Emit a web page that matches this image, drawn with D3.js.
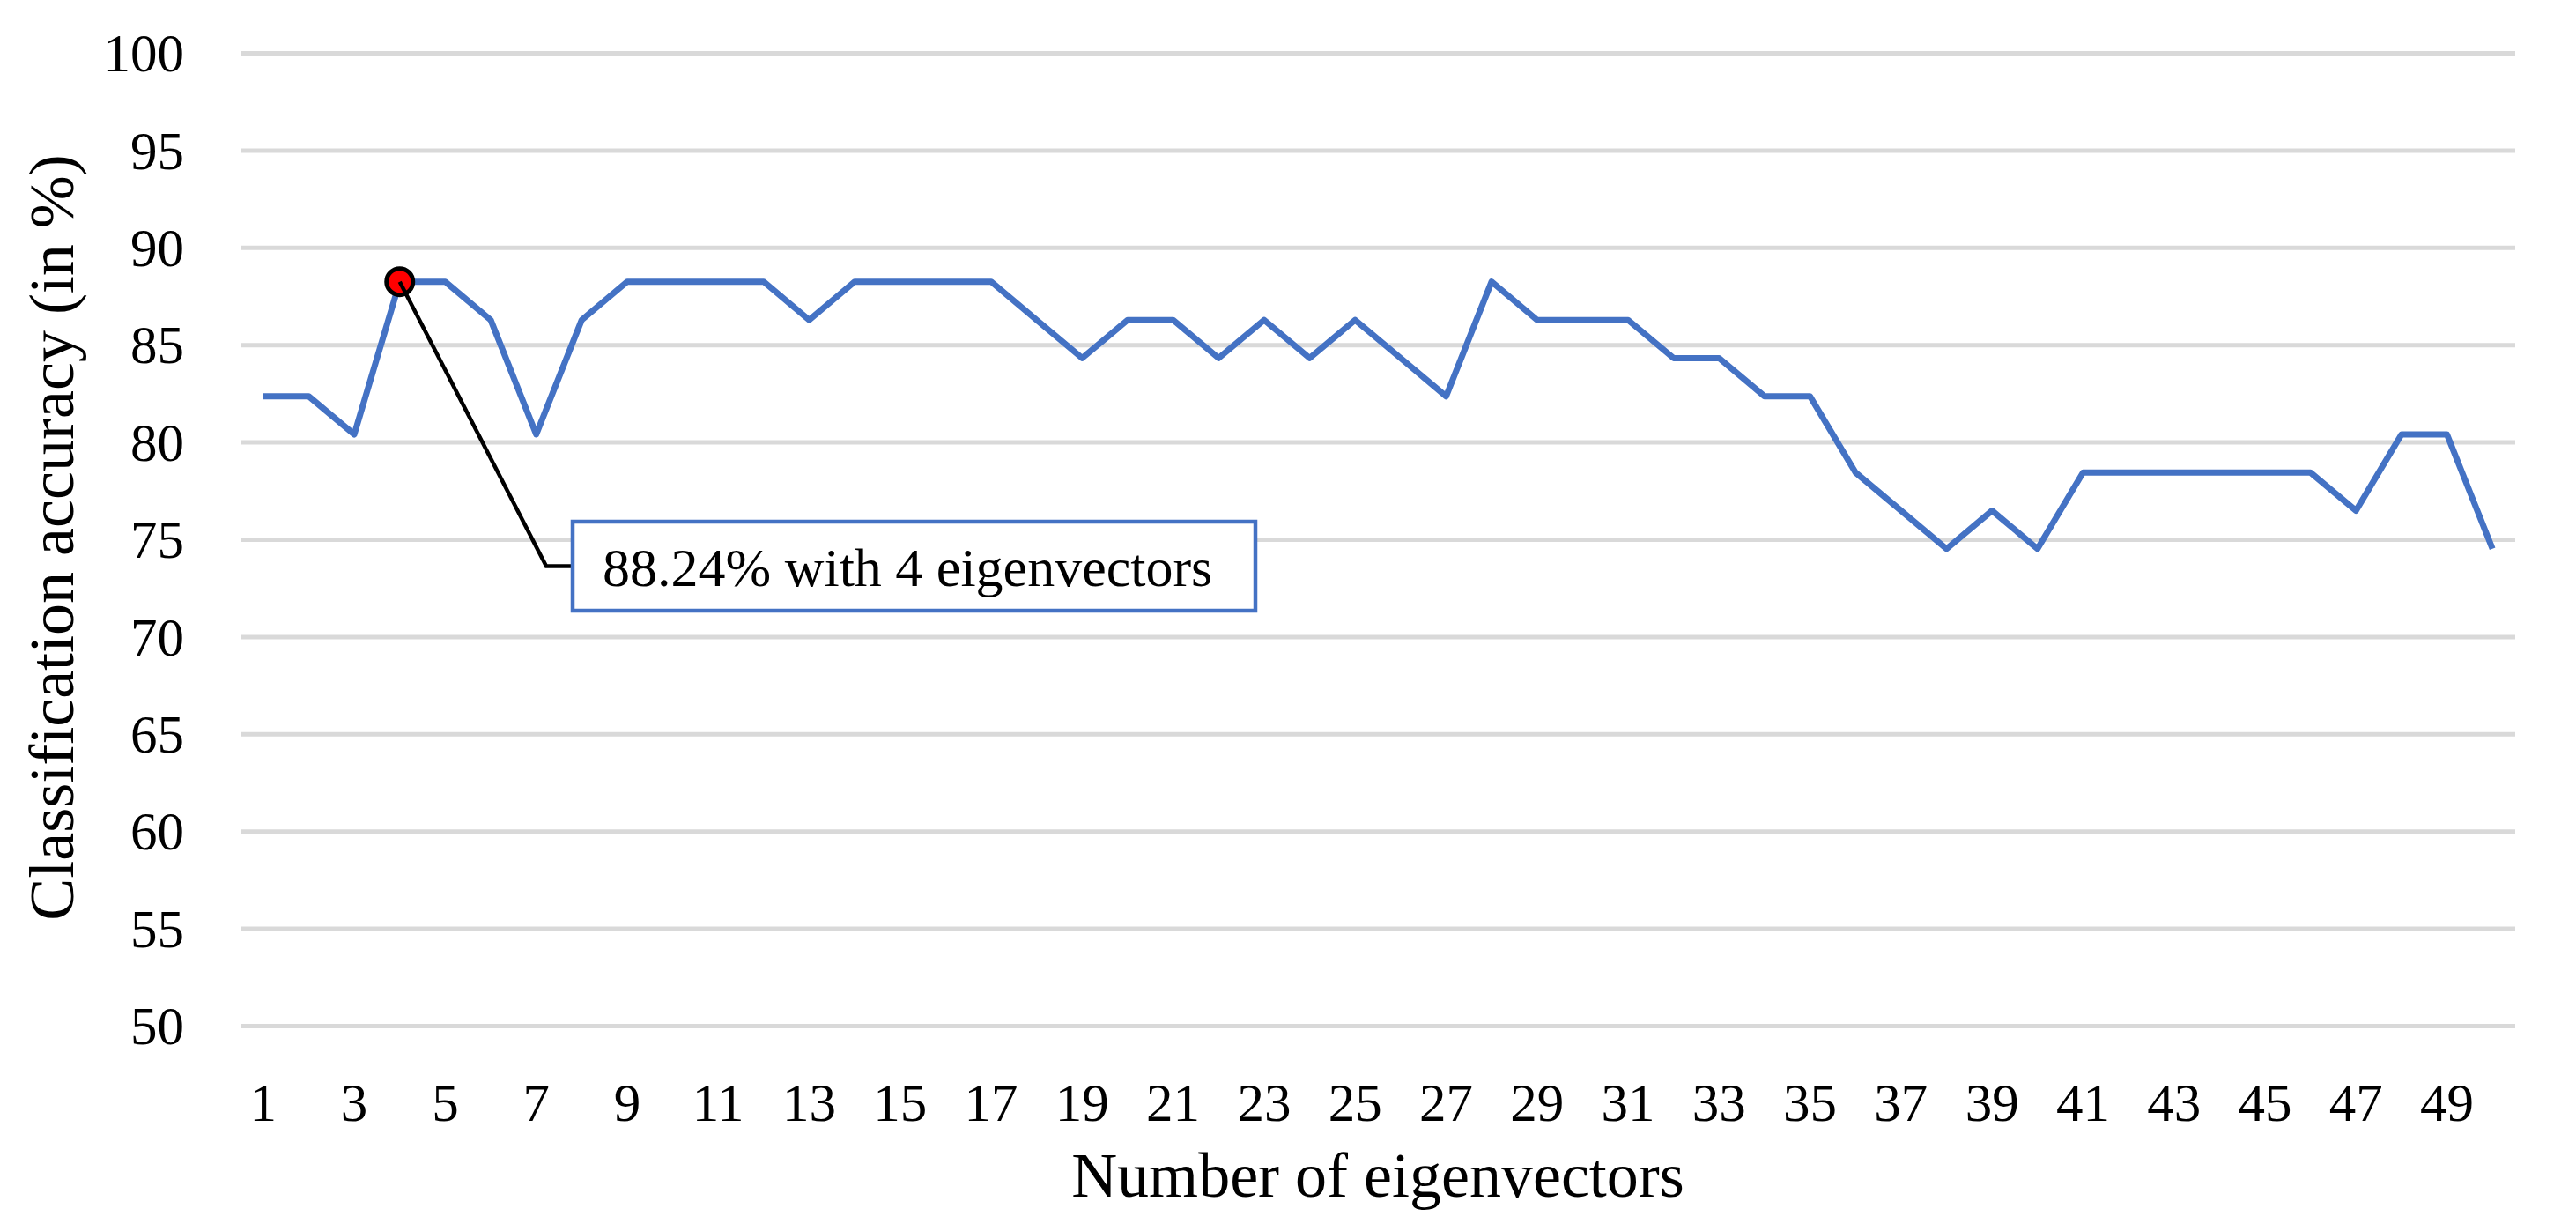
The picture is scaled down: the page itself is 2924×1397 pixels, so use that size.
<!DOCTYPE html>
<html>
<head>
<meta charset="utf-8">
<script src="https://cdn.jsdelivr.net/npm/d3@7"></script>
<style>
  body { margin: 0; background: #fff; }
  svg text { font-family: "Liberation Serif", "Times New Roman", serif; fill: #000; }
</style>
</head>
<body>
<div id="chart"></div>
<script>
// number of eigenvectors kept (x) and classification accuracy in % (y)
var eigenCounts = d3.range(1, 51);
var accuracy = [
  82.35, 82.35, 80.39, 88.24, 88.24, 86.27, 80.39, 86.27, 88.24, 88.24,
  88.24, 88.24, 86.27, 88.24, 88.24, 88.24, 88.24, 86.27, 84.31, 86.27,
  86.27, 84.31, 86.27, 84.31, 86.27, 84.31, 82.35, 88.24, 86.27, 86.27,
  86.27, 84.31, 84.31, 82.35, 82.35, 78.43, 76.47, 74.51, 76.47, 74.51,
  78.43, 78.43, 78.43, 78.43, 78.43, 78.43, 76.47, 80.39, 80.39, 74.51
];
var yTicks = [50, 55, 60, 65, 70, 75, 80, 85, 90, 95, 100];
var xTicks = eigenCounts.filter(function(d){ return d % 2 == 1; });
var bestCount = 4;
var bestLabel = "88.24% with 4 eigenvectors";

var W = 2924, H = 1397;
var plotLeft = 273, plotRight = 2855, plotTop = 60, plotBottom = 1164;

var data = eigenCounts.map(function(n, i){ return {n: n, v: accuracy[i]}; });

var svg = d3.select("#chart").append("svg").attr("width", W).attr("height", H);

var xScale = d3.scaleBand().domain(eigenCounts).range([plotLeft, plotRight]).padding(0);
var yScale = d3.scaleLinear().domain([50, 100]).range([plotBottom, plotTop]);
var bw = xScale.bandwidth();

// y axis + gridlines
var yAxis = d3.axisLeft(yScale).tickValues(yTicks).tickSize(-(plotRight - plotLeft)).tickPadding(64);
var gy = svg.append("g").attr("transform", "translate(" + plotLeft + ",0)").call(yAxis);
gy.select(".domain").remove();
gy.selectAll(".tick line").attr("stroke", "#d9d9d9").attr("stroke-width", 5);
gy.selectAll(".tick text").style("font-size", "61px").attr("dy", "0.34em");

// x axis (labels only)
var xAxis = d3.axisBottom(xScale).tickValues(xTicks).tickSize(0);
var gx = svg.append("g").attr("transform", "translate(0," + plotBottom + ")").call(xAxis);
gx.select(".domain").remove();
gx.selectAll(".tick text").style("font-size", "61px").attr("y", 108).attr("dy", 0);

// axis titles
svg.append("text")
  .attr("x", (plotLeft + plotRight) / 2).attr("y", 1358)
  .attr("text-anchor", "middle")
  .style("font-size", "72px")
  .text("Number of eigenvectors");

svg.append("text")
  .attr("transform", "translate(83,610) rotate(-90)")
  .attr("text-anchor", "middle")
  .style("font-size", "72px")
  .text("Classification accuracy (in %)");

// accuracy line
var line = d3.line()
  .x(function(d){ return xScale(d.n) + bw / 2; })
  .y(function(d){ return yScale(d.v); });

svg.append("path")
  .datum(data)
  .attr("fill", "none")
  .attr("stroke", "#4472c4")
  .attr("stroke-width", 7)
  .attr("stroke-linejoin", "round")
  .attr("d", line);

// callout for best result
var best = data.filter(function(d){ return d.n == bestCount; })[0];
var bx = xScale(best.n) + bw / 2, by = yScale(best.v);
var box = {x: 650, y: 592, w: 775, h: 101};
var boxMid = box.y + box.h / 2;

svg.append("circle")
  .attr("cx", bx).attr("cy", by).attr("r", 15)
  .attr("fill", "#ff0000")
  .attr("stroke", "#000")
  .attr("stroke-width", 5);

svg.append("path")
  .attr("fill", "none")
  .attr("stroke", "#000")
  .attr("stroke-width", 4.5)
  .attr("d", "M" + bx + "," + by + "L" + (box.x - 30) + "," + boxMid + "L" + box.x + "," + boxMid);

svg.append("rect")
  .attr("x", box.x).attr("y", box.y)
  .attr("width", box.w).attr("height", box.h)
  .attr("fill", "#fff")
  .attr("stroke", "#4472c4")
  .attr("stroke-width", 4.5);

svg.append("text")
  .attr("x", box.x + 34).attr("y", box.y + 73)
  .style("font-size", "62px")
  .text(bestLabel);
</script>
</body>
</html>
